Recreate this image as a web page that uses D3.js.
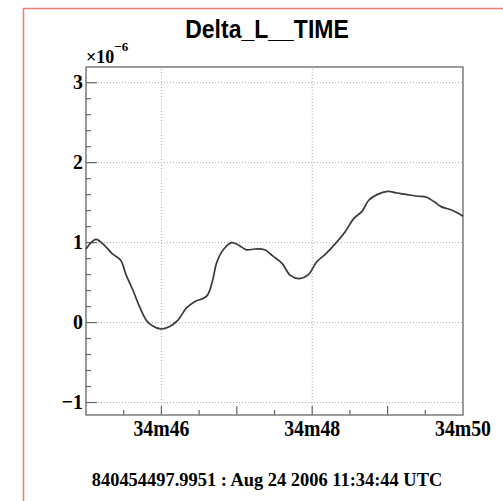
<!DOCTYPE html>
<html>
<head>
<meta charset="utf-8">
<script src="https://cdn.jsdelivr.net/npm/d3@7"></script>
<style>
  body { margin: 0; background: #fff; }
  svg { display: block; }
</style>
</head>
<body>
<div class="chart"></div>
<script>
(() => {
  // seconds after 11:34:00, values in units of 1e-6
  const times = [45.0, 45.13, 45.26, 45.35, 45.46, 45.53, 45.62, 45.71, 45.8, 45.88, 45.99, 46.11, 46.22, 46.33, 46.44, 46.6, 46.68, 46.73, 46.82, 46.93, 47.02, 47.13, 47.24, 47.37, 47.48, 47.6, 47.71, 47.83, 47.95, 48.06, 48.17, 48.31, 48.44, 48.55, 48.66, 48.75, 48.86, 49.0, 49.13, 49.26, 49.4, 49.51, 49.62, 49.71, 49.84, 49.93, 50.0];
  const values = [0.92, 1.04, 0.95, 0.86, 0.78, 0.6, 0.41, 0.2, 0.03, -0.04, -0.08, -0.05, 0.03, 0.18, 0.26, 0.33, 0.53, 0.74, 0.91, 1.0, 0.97, 0.91, 0.92, 0.91, 0.83, 0.74, 0.59, 0.55, 0.6, 0.76, 0.85, 0.99, 1.14, 1.3, 1.39, 1.53, 1.6, 1.64, 1.62, 1.6, 1.58, 1.57, 1.51, 1.45, 1.41, 1.37, 1.33];
  const xTicks = [46, 48, 50];
  const xTickLabels = ["34m46", "34m48", "34m50"];
  const yTicks = [-1, 0, 1, 2, 3];
  const title = "Delta_L__TIME";
  const footer = "840454497.9951 : Aug 24 2006 11:34:44 UTC";

  const width = 503, height = 501;
  const yMin = -1.156, yMax = 3.196;
  const margin = { top: 67, right: 40, bottom: 86, left: 86 };

  const svg = d3.select(".chart").append("svg")
    .attr("width", width).attr("height", height);

  // red selection frame
  svg.append("path")
    .attr("d", `M23.5,${height} V8.5 H${width}`)
    .attr("fill", "none").attr("stroke", "#f47a7a").attr("stroke-width", 1.5);

  const x = d3.scaleLinear().domain([45, 50]).range([margin.left, width - margin.right]);
  const y = d3.scaleLinear().domain([yMin, yMax]).range([height - margin.bottom, margin.top]);

  const grid = svg.append("g").attr("stroke", "#aaa").attr("stroke-dasharray", "1,2").attr("stroke-width", 1);
  grid.selectAll(".gy").data(yTicks).join("line")
    .attr("x1", x(45)).attr("x2", x(50))
    .attr("y1", d => y(d)).attr("y2", d => y(d));
  grid.selectAll(".gx").data(xTicks.slice(0, -1)).join("line")
    .attr("x1", d => x(d)).attr("x2", d => x(d))
    .attr("y1", y(yMin)).attr("y2", y(yMax));

  // left axis ticks
  const yMinor = d3.range(-1, 3.0001, 0.2).map(v => +v.toFixed(2));
  svg.append("g").attr("stroke", "#666").attr("stroke-width", 1.2)
    .selectAll("line").data(yMinor).join("line")
    .attr("x1", x(45)).attr("y1", d => y(d)).attr("y2", d => y(d))
    .attr("x2", d => x(45) + (Number.isInteger(d) ? 11 : 5));

  // bottom axis ticks
  const xMinor = d3.range(45.5, 50, 0.5);
  svg.append("g").attr("stroke", "#666").attr("stroke-width", 1.2)
    .selectAll("line").data(xMinor).join("line")
    .attr("x1", d => x(d)).attr("x2", d => x(d)).attr("y1", y(yMin))
    .attr("y2", d => y(yMin) - (Number.isInteger(d) ? 9 : 5));

  // frame
  svg.append("rect")
    .attr("x", x(45)).attr("y", y(yMax))
    .attr("width", x(50) - x(45)).attr("height", y(yMin) - y(yMax))
    .attr("fill", "none").attr("stroke", "#666").attr("stroke-width", 1.3);

  // curve
  const line = d3.line().x((d, i) => x(times[i])).y(d => y(d)).curve(d3.curveCatmullRom);
  svg.append("path").datum(values)
    .attr("d", line)
    .attr("fill", "none").attr("stroke", "#3a3a3a").attr("stroke-width", 1.7);

  const serif = "'Liberation Serif', 'Times New Roman', serif";

  svg.append("g").selectAll("text").data(yTicks).join("text")
    .attr("transform", d => `translate(83,${y(d) + 6}) scale(0.9,1)`)
    .attr("text-anchor", "end")
    .attr("font-family", serif).attr("font-weight", "bold").attr("font-size", 22)
    .text(d => d < 0 ? "\u2212" + Math.abs(d) : d);

  svg.append("g").selectAll("text").data(xTicks).join("text")
    .attr("transform", d => `translate(${x(d)},${y(yMin) + 21}) scale(0.86,1)`)
    .attr("text-anchor", "middle")
    .attr("font-family", serif).attr("font-weight", "bold").attr("font-size", 23)
    .text((d, i) => xTickLabels[i]);

  // exponent label
  const expo = svg.append("text")
    .attr("transform", "translate(86,63)")
    .attr("font-family", serif).attr("font-weight", "bold").attr("font-size", 18);
  expo.append("tspan").text("\u00d710");
  expo.append("tspan").attr("dy", -12).attr("font-size", 13).text("\u22126");

  svg.append("text")
    .attr("transform", "translate(267,38) scale(0.92,1)")
    .attr("text-anchor", "middle")
    .attr("font-family", "'Liberation Sans', Arial, sans-serif")
    .attr("font-weight", "bold").attr("font-size", 25)
    .text(title);

  svg.append("text")
    .attr("transform", "translate(267,486) scale(0.97,1)")
    .attr("text-anchor", "middle")
    .attr("font-family", serif).attr("font-weight", "bold").attr("font-size", 19)
    .text(footer);
})();
</script>
</body>
</html>
